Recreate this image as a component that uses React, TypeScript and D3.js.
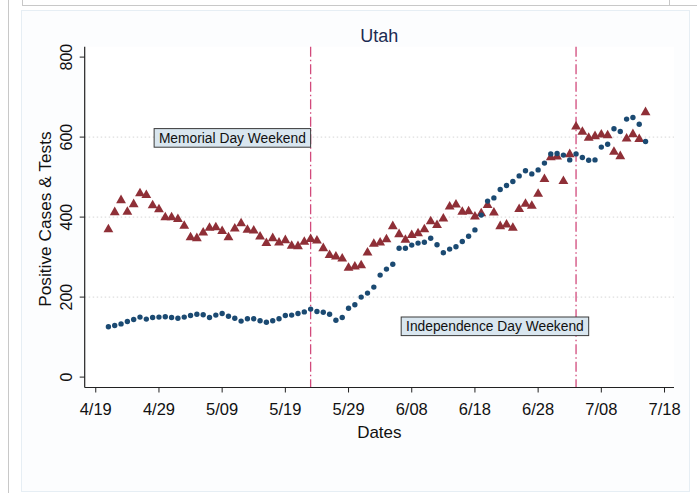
import React from 'react'
import * as d3 from 'd3'

// daily values, 4/21 .. 7/15
const FIRST_DAY = new Date(2020, 3, 21)

const TESTS = [
  369, 412, 442, 413, 432, 459, 455, 429, 419, 399, 399, 395, 378, 349, 347, 361, 373, 374, 365, 349,
  371, 384, 368, 366, 351, 335, 347, 336, 342, 328, 327, 338, 345, 341, 322, 305, 301, 296, 273, 276,
  279, 311, 333, 336, 344, 377, 357, 343, 355, 359, 369, 389, 380, 396, 426, 431, 413, 414, 401, 409,
  430, 411, 377, 381, 373, 420, 433, 428, 458, 495, 549, 551, 490, 557, 626, 613, 598, 602, 606, 604,
  563, 552, 596, 607, 595, 662,
]

const CASES = [
  126, 129, 133, 139, 144, 150, 145, 149, 150, 151, 149, 147, 150, 154, 157, 156, 149, 155, 159, 152,
  147, 140, 146, 146, 141, 137, 141, 146, 154, 155, 159, 163, 170, 164, 162, 157, 142, 149, 172, 181,
  200, 210, 225, 255, 270, 282, 322, 322, 330, 335, 337, 347, 331, 311, 320, 326, 339, 352, 368, 405,
  440, 448, 469, 479, 489, 503, 516, 508, 518, 535, 558, 559, 555, 543, 558, 549, 542, 543, 575, 582,
  621, 614, 645, 649, 632, 589,
]

const X_TICKS = [
  new Date(2020, 3, 19), new Date(2020, 3, 29), new Date(2020, 4, 9), new Date(2020, 4, 19),
  new Date(2020, 4, 29), new Date(2020, 5, 8), new Date(2020, 5, 18), new Date(2020, 5, 28),
  new Date(2020, 6, 8), new Date(2020, 6, 18),
]
const Y_TICKS = [0, 200, 400, 600, 800]
const GRID = [200, 400, 600]

const EVENT_DATES = [new Date(2020, 4, 23), new Date(2020, 6, 4)]
const NOTES = [
  { text: 'Memorial Day Weekend', date: new Date(2020, 4, 23), value: 598 },
  { text: 'Independence Day Weekend', date: new Date(2020, 6, 6), value: 127 },
]

const W = 697
const H = 493
const FONT = '"Liberation Sans", Arial, sans-serif'

export default function App() {
  const x = d3
    .scaleTime()
    .domain([new Date(2020, 3, 17, 6), new Date(2020, 6, 19, 12)])
    .range([84.7, 674])
  const y = d3.scaleLinear().domain([-26, 826]).range([387.5, 46.7])
  const day = (i: number) => d3.timeDay.offset(FIRST_DAY, i)
  const fmt = d3.timeFormat('%-m/%d')
  const tri = d3.symbol(d3.symbolTriangle, 42)()
  const [x0, x1] = x.range()
  const [yb, yt] = y.range()
  const noteW = [156.5, 187.5]

  return (
    <svg
      width={W}
      height={H}
      style={{ position: 'fixed', left: 0, top: 0, background: '#fff' }}
      fontFamily={FONT}
    >
      {/* screenshot frame */}
      <line x1={8.5} x2={8.5} y1={0} y2={H} stroke="#c8c8c8" />
      <line x1={22} x2={W} y1={5.5} y2={5.5} stroke="#c8c8c8" />
      <line x1={22.5} x2={22.5} y1={0} y2={5.5} stroke="#c8c8c8" />
      <line x1={669.5} x2={669.5} y1={0} y2={5.5} stroke="#c8c8c8" />
      <rect x={21.5} y={10.5} width={668} height={481} fill="#fcfdfe" stroke="#e6eef4" />
      <rect x={x0} y={yt} width={x1 - x0} height={yb - yt} fill="#fff" />

      {GRID.map((v) => (
        <line
          key={v}
          x1={x0}
          x2={x1}
          y1={y(v)}
          y2={y(v)}
          stroke="#d6d6d6"
          strokeDasharray="1.5,2.5"
        />
      ))}

      {EVENT_DATES.map((d) => (
        <line
          key={+d}
          x1={x(d)}
          x2={x(d)}
          y1={yt}
          y2={yb}
          stroke="#d24a7c"
          strokeWidth={1.3}
          strokeDasharray="10,3,1.5,3"
        />
      ))}

      {NOTES.map((n, i) => {
        const right = x(n.date)
        const cy = y(n.value)
        return (
          <g key={n.text}>
            <rect
              x={right - noteW[i]}
              y={cy - 9.3}
              width={noteW[i]}
              height={18.6}
              fill="#d9e6ef"
              stroke="#3a3a3a"
              strokeWidth={1}
            />
            <text x={right - noteW[i] / 2} y={cy + 4.8} fontSize={13.8} textAnchor="middle" fill="#111">
              {n.text}
            </text>
          </g>
        )
      })}

      {TESTS.map((v, i) => (
        <path key={'t' + i} d={tri!} transform={`translate(${x(day(i))},${y(v)})`} fill="#8f2f37" />
      ))}
      {CASES.map((v, i) => (
        <circle key={'c' + i} cx={x(day(i))} cy={y(v)} r={2.7} fill="#1b4a72" />
      ))}

      {/* axes */}
      <line x1={x0} x2={x0} y1={yt} y2={yb} stroke="#222" strokeWidth={1.2} />
      <line x1={x0} x2={x1} y1={yb} y2={yb} stroke="#222" strokeWidth={1.2} />
      {Y_TICKS.map((v) => (
        <g key={v}>
          <line x1={x0 - 5} x2={x0} y1={y(v)} y2={y(v)} stroke="#222" />
          <text
            transform={`translate(${x0 - 13},${y(v)}) rotate(-90)`}
            textAnchor="middle"
            fontSize={16}
            fill="#111"
          >
            {v}
          </text>
        </g>
      ))}
      {X_TICKS.map((d) => (
        <g key={+d}>
          <line x1={x(d)} x2={x(d)} y1={yb} y2={yb + 5} stroke="#222" />
          <text x={x(d)} y={415} textAnchor="middle" fontSize={16.5} fill="#111">
            {fmt(d)}
          </text>
        </g>
      ))}

      <text x={(x0 + x1) / 2} y={438} textAnchor="middle" fontSize={17} fill="#111">
        Dates
      </text>
      <text
        transform={`translate(50.5,${(yt + yb) / 2 + 2}) rotate(-90)`}
        textAnchor="middle"
        fontSize={17.3}
        fill="#111"
      >
        Positive Cases &amp; Tests
      </text>
      <text x={(x0 + x1) / 2} y={42} textAnchor="middle" fontSize={18} fill="#1c2b52">
        Utah
      </text>
    </svg>
  )
}
